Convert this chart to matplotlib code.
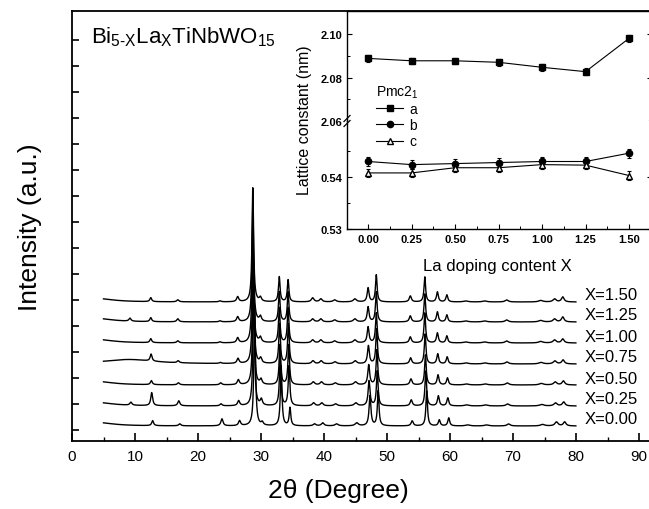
import matplotlib.pyplot as plt
import numpy as np
from matplotlib.lines import Line2D
from matplotlib.ticker import MultipleLocator, FixedLocator, FormatStrFormatter

plt.rcParams['font.family'] = ['Liberation Sans', 'DejaVu Sans']
plt.rcParams['mathtext.fontset'] = 'custom'
plt.rcParams['mathtext.rm'] = 'Liberation Sans'
plt.rcParams['mathtext.it'] = 'Liberation Sans:italic'

# ---- XRD patterns, Bi(5-x)La(x)TiNbWO15 ----
COMPOSITIONS = ["0.00", "0.25", "0.50", "0.75", "1.00", "1.25", "1.50"]
OFFSETS = [15, 35, 56, 77, 98, 119, 139]          # vertical stacking
SHIFTS = [0.3, 0.15, 0.1, 0.05, 0.0, 0.0, 0.0]   # small peak shift per sample

PEAK_POS = [9.2, 12.5, 16.8, 23.5, 26.3, 28.7, 29.9, 32.9, 34.3, 38.2, 39.5,
            41.7, 44.9, 47.0, 48.3, 53.7, 56.0, 58.0, 59.5, 62.5, 65.5, 69.0,
            74.4, 76.6, 77.9]
PEAK_FWHM = [0.4, 0.35, 0.4, 0.4, 0.4, 0.3, 0.4, 0.3, 0.3, 0.5, 0.5,
             0.6, 0.6, 0.35, 0.3, 0.4, 0.3, 0.35, 0.35, 0.8, 0.8, 0.6,
             0.8, 0.6, 0.5]
PEAK_HEIGHTS = [
    [0, 5, 2, 7, 5, 120, 3, 60, 18, 2, 3, 2, 3, 30, 35, 5, 35, 6, 8, 1, 1, 2, 1.5, 4, 4],
    [3, 13, 5, 2, 5, 120, 6, 50, 40, 3, 3, 2, 3, 25, 35, 6, 35, 10, 8, 1, 1, 2, 1.5, 3, 4],
    [0, 4, 2, 2, 5, 120, 5, 40, 40, 3, 3, 2, 3, 20, 35, 6, 30, 10, 7, 1, 1, 2, 1.5, 3, 4],
    [0, 7, 2, 1, 5, 120, 5, 40, 40, 3, 3, 2, 3, 18, 35, 6, 30, 10, 7, 1, 1, 2, 1.5, 3, 4],
    [0, 4, 2, 1, 5, 120, 5, 35, 35, 3, 3, 2, 3, 16, 30, 6, 30, 10, 7, 1, 1, 2, 1.5, 3, 4],
    [3, 4, 3, 1, 5, 118, 5, 30, 30, 3, 3, 2, 3, 15, 30, 6, 28, 10, 7, 1, 1, 2, 1.5, 3, 5],
    [0, 4, 2, 1, 5, 114, 4, 25, 22, 4, 3, 2, 3, 14, 27, 6, 25, 10, 7, 1, 1, 2, 1.5, 3, 5],
]
# broad low-angle background
BG_POS = [4, 4, 4, 9.0, 4, 4, 4]
BG_FWHM = [6, 6, 6, 10, 6, 6, 6]
BG_HEIGHT = [3.5, 3.5, 3.5, 4.5, 3.5, 3.5, 3.5]

# ---- lattice constants (inset) ----
X_LA = [0.00, 0.25, 0.50, 0.75, 1.00, 1.25, 1.50]
A_NM = [2.0888, 2.0877, 2.0877, 2.0870, 2.0847, 2.0827, 2.0980]
A_ERR = [0.0015, 0.0015, 0.0015, 0.0015, 0.0015, 0.0015, 0.0015]
B_NM = [0.5430, 0.5424, 0.5426, 0.5428, 0.5430, 0.5430, 0.5446]
B_ERR = [0.0009, 0.0009, 0.0009, 0.0009, 0.0009, 0.0009, 0.0009]
C_NM = [0.5408, 0.5408, 0.5418, 0.5418, 0.5424, 0.5423, 0.5403]
C_ERR = [0.0008, 0.0008, 0.0008, 0.0008, 0.0008, 0.0008, 0.0008]


def lorentz(x, x0, fwhm, h):
    g = fwhm / 2.0
    return h * g ** 2 / ((x - x0) ** 2 + g ** 2)


W, H = 649, 510
fig = plt.figure(figsize=(W / 100, H / 100), dpi=100)

ax = fig.add_axes([72 / W, 68 / H, 580 / W, 430 / H])
tth = np.arange(5.0, 80.0, 0.02)
for i, comp in enumerate(COMPOSITIONS):
    y = np.full_like(tth, OFFSETS[i], dtype=float)
    y += lorentz(tth, BG_POS[i], BG_FWHM[i], BG_HEIGHT[i])
    for p, w, h in zip(PEAK_POS, PEAK_FWHM, PEAK_HEIGHTS[i]):
        if h > 0:
            y += lorentz(tth, p + SHIFTS[i], w, h)
    ax.plot(tth, y, color='black', lw=1.0)
    ax.text(81.3, OFFSETS[i] + 7, f"X={comp}", fontsize=12, va='center', ha='left')

ax.set_xlim(0, 580 / 6.3)
ax.set_ylim(0, 430)
ax.xaxis.set_major_locator(FixedLocator(np.arange(0, 91, 10)))
ax.xaxis.set_minor_locator(FixedLocator(np.arange(5, 91, 10)))
ax.yaxis.set_major_locator(FixedLocator(np.arange(11, 410, 26)))
ax.set_yticklabels([])
ax.tick_params(axis='x', which='major', direction='in', length=6, width=1.2,
               top=False, labelsize=11, pad=6)
ax.tick_params(axis='x', which='minor', direction='in', length=3, width=1.0, top=False)
ax.tick_params(axis='y', which='major', direction='in', length=5, width=1.2, right=False)
for s in ax.spines.values():
    s.set_linewidth(1.3)
ax.set_xlabel("2θ (Degree)", fontsize=19)
ax.xaxis.set_label_coords(0.46, -0.085)
ax.set_ylabel("Intensity (a.u.)", fontsize=19, labelpad=18)
ax.text(3.0, 405,
        r"Bi$_{\mathregular{5\text{-}X}}$La$_{\mathregular{X}}$TiNbWO$_{\mathregular{15}}$",
        fontsize=16, va='center', ha='left')

# ---- inset: lattice constants with a broken y axis ----
x_left, x_right = 347, 652
brk, top, bot = 122, 12, 230
ax_up = fig.add_axes([x_left / W, 1 - brk / H, (x_right - x_left) / W, (brk - top) / H])
ax_lo = fig.add_axes([x_left / W, 1 - bot / H, (x_right - x_left) / W, (bot - brk) / H])

mk = dict(color='black', lw=0.8, ms=4.5, elinewidth=0.8, capsize=1.5, capthick=0.8)
ax_up.errorbar(X_LA, A_NM, yerr=A_ERR, marker='s', mfc='black', **mk)
ax_lo.errorbar(X_LA, B_NM, yerr=B_ERR, marker='o', mfc='black', **mk)
ax_lo.errorbar(X_LA, C_NM, yerr=C_ERR, marker='^', mfc='white', **mk)

for a in (ax_up, ax_lo):
    a.set_xlim(-0.121, 1.632)
    a.xaxis.set_major_locator(MultipleLocator(0.25))
    a.xaxis.set_minor_locator(MultipleLocator(0.125))
    a.yaxis.set_major_formatter(FormatStrFormatter('%.2f'))
    a.tick_params(which='both', direction='in', right=True, top=False, labelsize=8)
    a.tick_params(which='major', length=3.5, width=0.8)
    a.tick_params(which='minor', length=2, width=0.7)
    for lab in a.get_xticklabels() + a.get_yticklabels():
        lab.set_fontweight('bold')
    for s in a.spines.values():
        s.set_linewidth(1.0)

ax_up.set_ylim(2.06, 2.1106)
ax_up.yaxis.set_major_locator(FixedLocator([2.06, 2.08, 2.10]))
ax_up.yaxis.set_minor_locator(FixedLocator([2.07, 2.09]))
ax_up.spines['bottom'].set_visible(False)
ax_up.tick_params(axis='x', which='both', bottom=False, labelbottom=False)

ax_lo.set_ylim(0.53, 0.5508)
ax_lo.yaxis.set_major_locator(FixedLocator([0.53, 0.54]))
ax_lo.yaxis.set_minor_locator(FixedLocator([0.535, 0.545]))
ax_lo.spines['top'].set_visible(False)
ax_lo.xaxis.set_major_formatter(FormatStrFormatter('%.2f'))
for lab in ax_lo.get_xticklabels():
    lab.set_fontweight('bold')

# break marks on the left spine
for dy in (-2.5, 2.5):
    fig.add_artist(Line2D([(x_left - 3) / W, (x_left + 3) / W],
                          [1 - (brk + dy + 3) / H, 1 - (brk + dy - 3) / H],
                          color='black', lw=0.9))

fig.text(305 / W, 1 - 120 / H, "Lattice constant (nm)", rotation=90,
         fontsize=11.5, ha='center', va='center')
fig.text(497 / W, 1 - 266 / H, "La doping content X", fontsize=12,
         ha='center', va='center')

handles = [
    Line2D([], [], color='black', lw=0.8, marker='s', ms=4.5, mfc='black'),
    Line2D([], [], color='black', lw=0.8, marker='o', ms=4.5, mfc='black'),
    Line2D([], [], color='black', lw=0.8, marker='^', ms=4.5, mfc='white'),
]
fig.legend(handles, ['a', 'b', 'c'], title=r"Pmc2$_{\mathregular{1}}$",
           loc='upper left', bbox_to_anchor=(366 / W, 1 - 75 / H),
           frameon=False, fontsize=10, title_fontsize=10, handlelength=2.0,
           handletextpad=0.4, labelspacing=0.15, borderpad=0.2, alignment='left')

fig.savefig("out.png", dpi=100)
